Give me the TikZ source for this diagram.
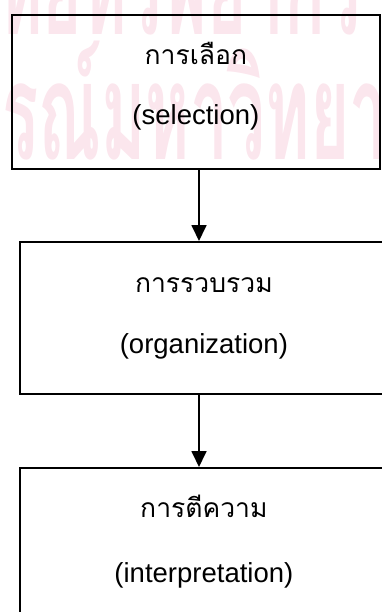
\documentclass[tikz,border=0pt]{standalone}
\usepackage{fontspec}
\setmainfont{Liberation Sans}
\newfontfamily\thaifont[Script=Thai]{Loma}
\usetikzlibrary{arrows.meta,positioning}
\definecolor{wmpink}{RGB}{251,230,237}
\tikzset{
  stagebox/.style={draw,line width=1.8pt,minimum width=368pt,minimum height=154pt,inner sep=0pt},
  thaiword/.style={font=\thaifont\fontsize{26.5}{30}\selectfont,inner sep=0pt,anchor=base},
  engword/.style={font=\fontsize{27.5}{30}\selectfont,inner sep=0pt,anchor=base},
  flow/.style={-{Triangle[length=16pt,width=15pt]},line width=1.8pt},
  watermark/.style={text=wmpink,font=\thaifont\bfseries\fontsize{135}{135}\selectfont,
    inner sep=0pt,xscale=0.5,anchor=base west},
}
\begin{document}
\begin{tikzpicture}[x=1pt,y=-1pt]
  \useasboundingbox (0,0) rectangle (381,612);
  % faint background stamp
  \begin{scope}
    \clip (0,0) rectangle (381,612);
    \node[watermark] (wmtop) at (-40,35) {วิทยทรัพยากร};
    \node[watermark] (wmbot) at (2,160) {รณ์มหาวิทยา};
  \end{scope}
  % the three stages
  \node[stagebox,anchor=north west] (sel) at (11,14) {};
  \node[stagebox,anchor=north west,minimum height=152pt] (org) at (19,241) {};
  \node[stagebox,anchor=north west] (int) at (19,467) {};
  \node[thaiword] (selth) at ([yshift=-51pt]sel.north) {การเลือก};
  \node[engword] (selen) at ([yshift=-111pt]sel.north) {(selection)};
  \node[thaiword] (orgth) at ([yshift=-51pt]org.north) {การรวบรวม};
  \node[engword] (orgen) at ([yshift=-112pt]org.north) {(organization)};
  \node[thaiword] (intth) at ([yshift=-50pt]int.north) {การตีความ};
  \node[engword] (inten) at ([yshift=-115pt]int.north) {(interpretation)};
  % arrows
  \coordinate (spine) at (199,0);
  \draw[flow] (sel.south -| spine) -- (org.north -| spine);
  \draw[flow] (org.south -| spine) -- (int.north -| spine);
\end{tikzpicture}
\end{document}
